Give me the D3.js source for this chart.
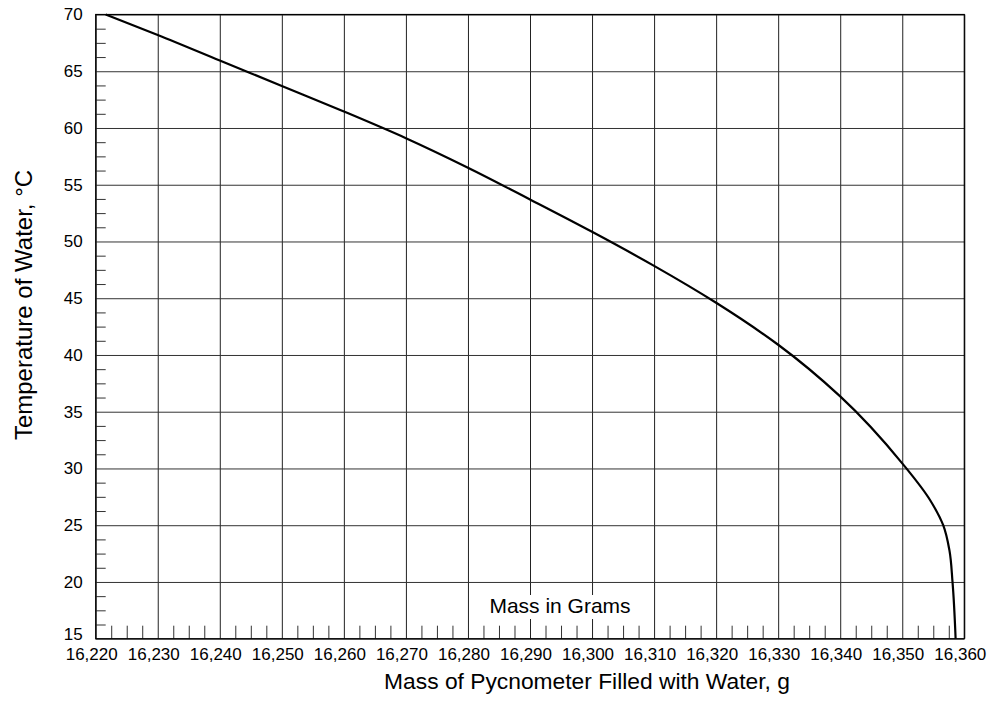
<!DOCTYPE html>
<html>
<head>
<meta charset="utf-8">
<script src="https://cdn.jsdelivr.net/npm/d3@7"></script>
<style>
  body { margin: 0; background: #fff; }
  svg text { font-family: Arial, "Liberation Sans", sans-serif; fill: #000; }
</style>
</head>
<body>
<svg width="987" height="711"></svg>
<script>
// tick values
var massTicks = [16220, 16230, 16240, 16250, 16260, 16270, 16280, 16290, 16300, 16310, 16320, 16330, 16340, 16350, 16360];
var tempTicks = [15, 20, 25, 30, 35, 40, 45, 50, 55, 60, 65, 70];

// curve: temperature of water (°C) vs. mass of filled pycnometer (g)
var curveTemps = [70, 68.2, 65.95, 63.7, 61.45, 59.1, 56.5, 53.7, 50.85, 47.85, 44.6, 40.9, 36.35, 30.45, 27.2, 25, 22.8, 20, 15];
var curveMass  = [16221.6, 16230, 16240, 16250, 16260, 16270, 16280, 16290, 16300, 16310, 16320, 16330, 16340, 16350, 16354.5, 16356.6, 16357.6, 16358.1, 16358.6];

var svg = d3.select("svg");

var plotL = 95.7, plotR = 964.3, plotT = 14.5, plotB = 638.7;

var x = d3.scaleLinear().domain([16220, 16360]).range([plotL, plotR]);
var y = d3.scaleLinear().domain([15, 70]).range([plotB, plotT]);

// minor ticks: 4 divisions between each major
var massMinor = [], tempMinor = [];
for (var i = 0; i < massTicks.length - 1; i++) {
  for (var k = 1; k < 4; k++) massMinor.push(massTicks[i] + k * 2.5);
}
for (var j = 0; j < tempTicks.length - 1; j++) {
  for (var m = 1; m < 4; m++) tempMinor.push(tempTicks[j] + m * 1.25);
}

// vertical grid
svg.append("g")
  .attr("transform", "translate(0," + plotB + ")")
  .call(d3.axisBottom(x).tickValues(massTicks).tickSize(-(plotB - plotT)).tickFormat(""))
  .call(function(g) {
    g.select(".domain").remove();
    g.selectAll("line").attr("stroke", "#222").attr("stroke-width", 1);
  });

// horizontal grid
svg.append("g")
  .attr("transform", "translate(" + plotL + ",0)")
  .call(d3.axisLeft(y).tickValues(tempTicks).tickSize(-(plotR - plotL)).tickFormat(""))
  .call(function(g) {
    g.select(".domain").remove();
    g.selectAll("line").attr("stroke", "#333").attr("stroke-width", 1);
  });

// minor ticks on x
svg.append("g")
  .attr("transform", "translate(0," + plotB + ")")
  .call(d3.axisBottom(x).tickValues(massMinor).tickSize(-13).tickFormat(""))
  .call(function(g) {
    g.select(".domain").remove();
    g.selectAll("line").attr("stroke", "#333");
  });

// minor ticks on y
svg.append("g")
  .attr("transform", "translate(" + plotL + ",0)")
  .call(d3.axisLeft(y).tickValues(tempMinor).tickSize(-10).tickFormat(""))
  .call(function(g) {
    g.select(".domain").remove();
    g.selectAll("line").attr("stroke", "#333");
  });

// "Mass in Grams" label box
svg.append("rect")
  .attr("x", 472).attr("y", 595)
  .attr("width", 178).attr("height", 24)
  .attr("fill", "#fff");
svg.append("text")
  .attr("x", 560).attr("y", 606)
  .attr("text-anchor", "middle")
  .attr("dy", "0.35em")
  .style("font-size", "21px")
  .text("Mass in Grams");

// frame
svg.append("rect")
  .attr("x", plotL).attr("y", plotT)
  .attr("width", plotR - plotL).attr("height", plotB - plotT)
  .attr("fill", "none").attr("stroke", "#000").attr("stroke-width", 1.2);

// tick labels
svg.append("g")
  .attr("transform", "translate(0," + plotB + ")")
  .call(d3.axisBottom(x).tickValues(massTicks).tickSize(0).tickPadding(9).tickFormat(d3.format(",")))
  .call(function(g) {
    g.select(".domain").remove();
    g.selectAll("text").attr("dx", -4.5).style("font-size", "17px").style("font-family", "Arial, 'Liberation Sans', sans-serif");
  });

svg.append("g")
  .attr("transform", "translate(" + plotL + ",0)")
  .call(d3.axisLeft(y).tickValues(tempTicks).tickSize(0).tickPadding(13))
  .call(function(g) {
    g.select(".domain").remove();
    g.selectAll("text").style("font-size", "17px").style("font-family", "Arial, 'Liberation Sans', sans-serif");
    g.selectAll(".tick").filter(function(d) { return d === 15; })
      .select("text").attr("y", -4.5);
  });

// curve
var pts = curveTemps.map(function(t, i) { return [curveMass[i], t]; });
var line = d3.line()
  .x(function(d) { return x(d[0]); })
  .y(function(d) { return y(d[1]); })
  .curve(d3.curveMonotoneY);

svg.append("path")
  .datum(pts)
  .attr("d", line)
  .attr("fill", "none")
  .attr("stroke", "#000")
  .attr("stroke-width", 2.2);

// axis titles
svg.append("text")
  .attr("x", 587).attr("y", 689)
  .attr("text-anchor", "middle")
  .style("font-size", "22.8px")
  .text("Mass of Pycnometer Filled with Water, g");

svg.append("text")
  .attr("transform", "translate(32,305) rotate(-90)")
  .attr("text-anchor", "middle")
  .style("font-size", "24px")
  .text("Temperature of Water,  \u00B0C");
</script>
</body>
</html>
